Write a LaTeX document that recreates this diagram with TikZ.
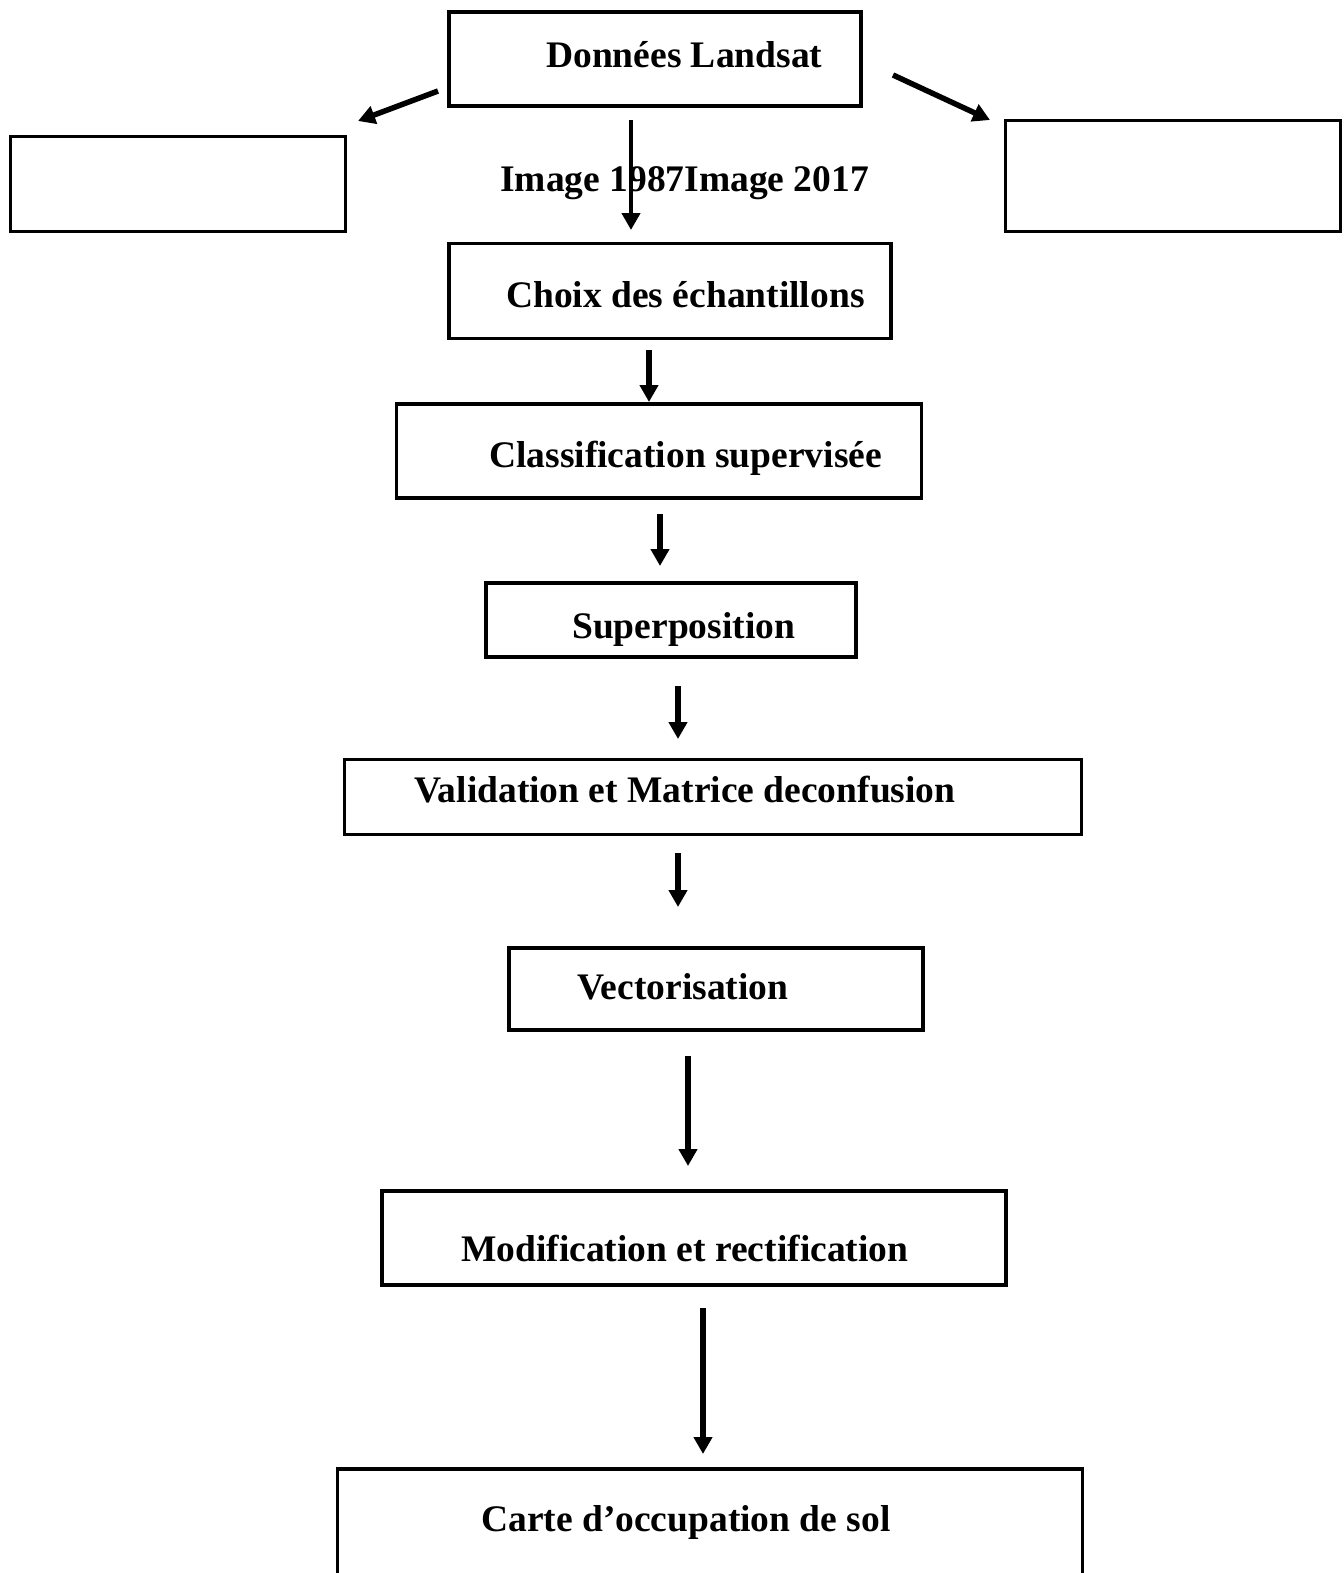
\documentclass[tikz,border=0pt]{standalone}
\usepackage{fontspec}
\setmainfont{Liberation Serif}
\usetikzlibrary{arrows.meta}
\begin{document}
\begin{tikzpicture}[x=1pt,y=-1pt,
  boxst/.style={draw=black,line width=3.5pt,rectangle,inner sep=0pt},
  lbl/.style={anchor=base west,inner sep=0pt,font=\fontsize{37.5}{45}\selectfont\bfseries},
  arr/.style={line width=5.5pt,-{Triangle[width=18pt,length=17pt]}}]
\useasboundingbox (0,0) rectangle (1343,1573);
% boxes
\node[boxst,minimum width=412pt,minimum height=94pt] (b0) at (655,59) {};
\node[boxst,minimum width=335pt,minimum height=95pt] (bl) at (178,184) {};
\node[boxst,minimum width=335pt,minimum height=111pt] (br) at (1173,176) {};
\node[boxst,minimum width=442pt,minimum height=95pt] (b1) at (670,291) {};
\node[boxst,minimum width=525pt,minimum height=94pt] (b2) at (659,451) {};
\node[boxst,minimum width=370pt,minimum height=74pt] (b3) at (671,620) {};
\node[boxst,minimum width=737pt,minimum height=75pt] (b4) at (713,797) {};
\node[boxst,minimum width=414pt,minimum height=82pt] (b5) at (716,989) {};
\node[boxst,minimum width=624pt,minimum height=94pt] (b6) at (694,1238) {};
\node[boxst,minimum width=745pt,minimum height=200pt] (b7) at (710,1569) {};
% labels
\node[lbl] (t0) at (546,68) {Données Landsat};
\node[lbl] (ti) at (500,192) {Image 1987Image 2017};
\node[lbl] (t1) at (506,307) {Choix des échantillons};
\node[lbl] (t2) at (489,467) {Classification supervisée};
\node[lbl] (t3) at (572,638) {Superposition};
\node[lbl] (t4) at (414,802) {Validation et Matrice deconfusion};
\node[lbl] (t5) at (577,999) {Vectorisation};
\node[lbl] (t6) at (461,1261) {Modification et rectification};
\node[lbl] (t7) at (481,1531) {Carte d’occupation de sol};
% arrow end points
\coordinate (al1) at (438,91);   \coordinate (al2) at (358,121);
\coordinate (ar1) at (893,75);   \coordinate (ar2) at (990,120);
\coordinate (a01) at (631,120);  \coordinate (a02) at (631,230);
\coordinate (a11) at (649,350);  \coordinate (a12) at (649,402);
\coordinate (a21) at (660,514);  \coordinate (a22) at (660,566);
\coordinate (a31) at (678,686);  \coordinate (a32) at (678,739);
\coordinate (a41) at (678,853);  \coordinate (a42) at (678,907);
\coordinate (a51) at (688,1056); \coordinate (a52) at (688,1166);
\coordinate (a61) at (703,1308); \coordinate (a62) at (703,1454);
\draw[arr] (al1) -- (al2);
\draw[arr] (ar1) -- (ar2);
\draw[arr,line width=4.7pt] (a01) -- (a02);
\draw[arr] (a11) -- (a12);
\draw[arr] (a21) -- (a22);
\draw[arr] (a31) -- (a32);
\draw[arr] (a41) -- (a42);
\draw[arr] (a51) -- (a52);
\draw[arr] (a61) -- (a62);
\end{tikzpicture}
\end{document}
